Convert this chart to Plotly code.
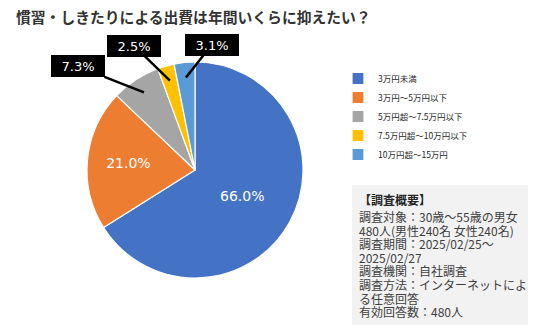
import math
import plotly.graph_objects as go

W, H = 536, 331

title_text = "慣習・しきたりによる出費は年間いくらに抑えたい？"
labels = ["3万円未満", "3万円～5万円以下", "5万円超～7.5万円以下", "7.5万円超～10万円以下", "10万円超～15万円"]
values = [66.0, 21.0, 7.3, 2.5, 3.1]
colors = ["#4472C4", "#ED7D31", "#A5A5A5", "#FFC000", "#5B9BD5"]
inside_label = [True, True, False, False, False]
info_title = "【調査概要】"
info_lines = [
    "調査対象：30歳～55歳の男女",
    "480人(男性240名 女性240名)",
    "調査期間：2025/02/25～",
    "2025/02/27",
    "調査機関：自社調査",
    "調査方法：インターネットによ",
    "る任意回答",
    "有効回答数：480人",
]

FONT = "Noto Sans CJK JP, Noto Sans, sans-serif"

# pie geometry (pixels)
cx, cy, R = 195, 170, 108
dom_x = [(cx - R) / W, (cx + R) / W]
dom_y = [1 - (cy + R) / H, 1 - (cy - R) / H]

fig = go.Figure()
fig.add_trace(go.Pie(
    labels=labels,
    values=values,
    sort=False,
    direction="clockwise",
    rotation=0,
    marker=dict(colors=colors, line=dict(color="white", width=1.2)),
    texttemplate=["%{value:.1f}%" if s else "" for s in inside_label],
    textposition="inside",
    insidetextfont=dict(color="white", size=14, family="DejaVu Sans, sans-serif"),
    insidetextorientation="horizontal",
    domain=dict(x=dom_x, y=dom_y),
    hoverinfo="label+value",
))

# callouts for small slices
total = sum(values)
callout_offsets = {2: (-66, -26), 3: (-36, -35), 4: (26, -33)}
cum = 0.0
anns = []
for i, v in enumerate(values):
    mid = (cum + v / 2) / total
    cum += v
    if inside_label[i]:
        continue
    ang = 2 * math.pi * mid
    r = R * 0.86
    tx = cx + r * math.sin(ang)
    ty = cy - r * math.cos(ang)
    ax, ay = callout_offsets[i]
    anns.append(dict(
        x=tx / W, y=1 - ty / H, xref="paper", yref="paper",
        text=f"{v:.1f}%", showarrow=True, arrowhead=0, arrowwidth=2.5,
        arrowcolor="black", ax=ax, ay=ay, axref="pixel", ayref="pixel",
        bgcolor="black", bordercolor="black", borderpad=3, width=46, height=14,
        font=dict(color="white", size=13, family="DejaVu Sans, sans-serif"),
    ))

# title
anns.append(dict(
    x=14 / W, y=1 - 16 / H, xref="paper", yref="paper", xanchor="left", yanchor="middle",
    text=f"<b>{title_text}</b>", showarrow=False,
    font=dict(size=14.8, color="#333333", family=FONT),
))

# info box
box = dict(x0=352 / W, x1=528 / W, y0=1 - 325 / H, y1=1 - 185 / H)
anns.append(dict(
    x=357 / W, y=1 - 199 / H, xref="paper", yref="paper", xanchor="left", yanchor="middle",
    text=f"<b>{info_title}</b>", showarrow=False,
    font=dict(size=12, color="#262626", family=FONT),
))
for k, line in enumerate(info_lines):
    anns.append(dict(
        x=357 / W, y=1 - (216.5 + 13.6 * k) / H, xref="paper", yref="paper",
        xanchor="left", yanchor="middle", text=line, showarrow=False,
        font=dict(size=12, color="#404040", family=FONT),
    ))

fig.update_layout(
    width=W, height=H,
    margin=dict(l=0, r=0, t=0, b=0),
    paper_bgcolor="white", plot_bgcolor="white",
    showlegend=True,
    legend=dict(
        x=338 / W, y=1 - 64 / H, xanchor="left", yanchor="top",
        font=dict(size=8.5, color="#262626", family=FONT),
        bgcolor="rgba(0,0,0,0)", itemwidth=30,
    ),
    shapes=[dict(type="rect", xref="paper", yref="paper", line=dict(width=0),
                 fillcolor="#F2F2F2", layer="below", **box)],
    annotations=anns,
)

fig.write_html("out.html")
